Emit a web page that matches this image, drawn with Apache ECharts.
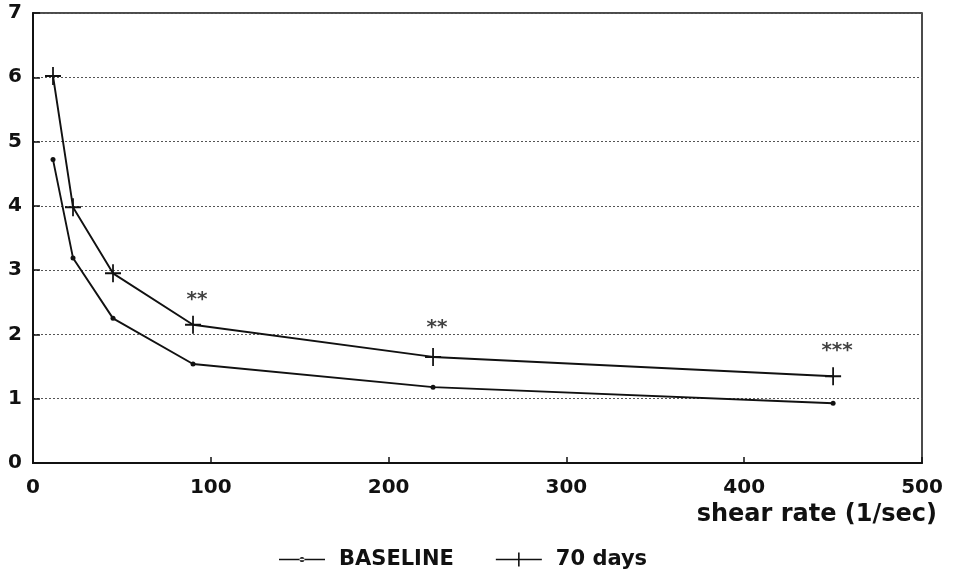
<!DOCTYPE html>
<html><head><meta charset="utf-8">
<script src="https://cdn.jsdelivr.net/npm/echarts@6/dist/echarts.min.js"></script>
<style>html,body{margin:0;padding:0;background:#fff}#c{width:953px;height:577px}</style>
</head><body><div id="c"></div>
<script>
const shearRates = [11.25, 22.5, 45, 90, 225, 450];
const baseline = [4.72, 3.19, 2.25, 1.54, 1.18, 0.93];
const days70 = [6.02, 3.98, 2.95, 2.15, 1.65, 1.35];
const starX = [90, 225, 450];
const starY = [2.62, 2.18, 1.82];
const starText = ['**', '**', '***'];
const xTicks = [0, 100, 200, 300, 400, 500];
const yTicks = [0, 1, 2, 3, 4, 5, 6, 7];

const font = '"DejaVu Sans", sans-serif';
const plus = 'path://M0,8.9H20V11.1H0Z M8.9,0H11.1V20H8.9Z';
const iconBase = 'path://M0,6.3H46V7.7H0Z M20.5,7a2.5,2.5 0 1,0 5,0a2.5,2.5 0 1,0 -5,0Z';
const iconPlus = 'path://M0,6.3H46V7.7H0Z M22.2,0H23.8V14H22.2Z';
const chart = echarts.init(document.getElementById('c'));
chart.setOption({
  animation: false,
  backgroundColor: '#fff',
  grid: {left: 33, right: 31, top: 13, bottom: 114, show: true, borderColor: '#111', borderWidth: 1.5},
  xAxis: {
    type: 'value', min: 0, max: 500, interval: 100,
    axisLine: {show: true, lineStyle: {color: '#111', width: 2}},
    axisTick: {show: true, inside: true, length: 6, lineStyle: {color: '#111', width: 1.5}},
    splitLine: {show: false},
    axisLabel: {color: '#111', fontFamily: font, fontWeight: 'bold', fontSize: 20, margin: 15,
      formatter: v => xTicks.includes(v) ? String(v) : ''}
  },
  yAxis: {
    type: 'value', min: 0, max: 7, interval: 1,
    axisLine: {show: true, lineStyle: {color: '#111', width: 2}},
    axisTick: {show: true, inside: true, length: 7, lineStyle: {color: '#111', width: 1.5}},
    splitLine: {show: true, lineStyle: {color: '#555', type: [2, 2], width: 1}},
    axisLabel: {color: '#111', fontFamily: font, fontWeight: 'bold', fontSize: 20, margin: 11,
      formatter: v => yTicks.includes(v) ? String(v) : ''}
  },
  legend: {
    bottom: 2, left: 274, itemGap: 42, itemWidth: 46, itemHeight: 14,
    textStyle: {color: '#111', fontFamily: font, fontWeight: 'bold', fontSize: 21, padding: [0, 0, 0, 9]},
    data: [{name: 'BASELINE', icon: iconBase}, {name: '70 days', icon: iconPlus}]
  },
  graphic: [{
    type: 'text', right: 16, top: 503,
    style: {text: 'shear rate (1/sec)', fill: '#111', font: 'bold 24px ' + font}
  }],
  series: [
    {
      name: 'BASELINE', type: 'line',
      data: shearRates.map((x, i) => [x, baseline[i]]),
      symbol: 'circle', symbolSize: 5,
      lineStyle: {color: '#111', width: 1.9},
      itemStyle: {color: '#111'}
    },
    {
      name: '70 days', type: 'line',
      data: shearRates.map((x, i) => [x, days70[i]]),
      symbol: plus, symbolSize: [16, 18],
      lineStyle: {color: '#111', width: 1.9},
      itemStyle: {color: '#111'}
    },
    {
      name: 'stars', type: 'scatter', symbolSize: 1,
      itemStyle: {color: 'rgba(0,0,0,0)'},
      data: starX.map((x, i) => ({value: [x, starY[i]], label: {formatter: starText[i]}})),
      label: {show: true, position: 'inside', color: '#111', fontFamily: font, fontWeight: 'bold', fontSize: 20, offset: [4, 5]},
      silent: true
    }
  ]
});
</script></body></html>
